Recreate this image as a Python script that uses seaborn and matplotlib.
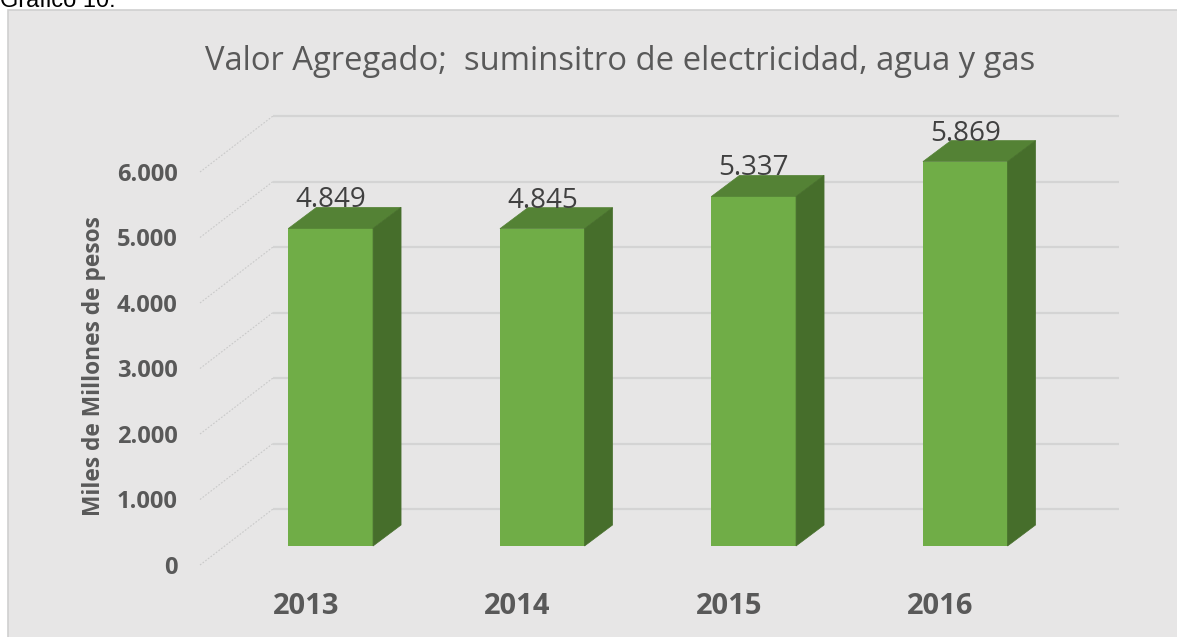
import matplotlib.pyplot as plt
import seaborn as sns
from matplotlib.patches import Polygon, Rectangle

# Datos
anios = ['2013', '2014', '2015', '2016']
valores = [4849, 4845, 5337, 5869]
etiquetas = ['4.849', '4.845', '5.337', '5.869']
ticks_y = [0, 1000, 2000, 3000, 4000, 5000, 6000]
ticks_y_txt = ['0', '1.000', '2.000', '3.000', '4.000', '5.000', '6.000']

titulo = 'Valor Agregado;  suminsitro de electricidad, agua y gas'

sns.set_theme(style='white')
plt.rcParams['font.family'] = ['Open Sans', 'DejaVu Sans']

W, H = 1177, 637
fig = plt.figure(figsize=(W / 100, H / 100), dpi=100)
fig.patch.set_facecolor('white')

# area del grafico (recortada a la derecha y abajo)
fig.add_artist(Rectangle((8 / W, -0.05), 1.1, 1 - 10 / H + 0.05, transform=fig.transFigure,
                         facecolor='#E7E6E6', edgecolor='#D0D0D0', lw=1.2, zorder=0))
fig.text(0.0, 1 - 7 / H, 'Gráfico 10:', fontsize=17, family=['Liberation Sans', 'DejaVu Sans'],
         color='black', va='baseline', ha='left')

# ejes = plano frontal de las barras
px_x = 211.5      # px por categoria
px_y = 0.0655     # px por unidad
y0_px = 546       # pixel (desde arriba) del 0 en el frente de las barras
ylim = (-600, 6500)
x_izq = 225
bottom_px = y0_px - ylim[0] * px_y
top_px = y0_px - ylim[1] * px_y
ax = fig.add_axes([x_izq / W, (H - bottom_px) / H, 4 * px_x / W, (bottom_px - top_px) / H])
ax.patch.set_alpha(0)

sns.barplot(x=anios, y=valores, color='#70AD47', saturation=1, width=0.4, ax=ax, zorder=3,
            linewidth=0)
ax.set_xlim(-0.5, 3.5)
ax.set_ylim(*ylim)
sns.despine(ax=ax, left=True, bottom=True)


def px(dx, dy):
    return dx / px_x, dy / px_y


prof = px(28, 21)      # profundidad de la barra
fondo = px(48, 37)     # pared del fondo
frente = px(-25, -19)  # plano de las etiquetas

# lineas de la pared del fondo y del costado
for t in ticks_y:
    ax.plot([-0.5 + fondo[0], 3.5 + fondo[0]], [t + fondo[1]] * 2, color='#D4D4D4', lw=1.6,
            zorder=1, clip_on=False, solid_capstyle='butt')
    ax.plot([-0.5 + frente[0], -0.5 + fondo[0]], [t + frente[1], t + fondo[1]], color='#C9C9C9',
            lw=0.8, ls=(0, (1.5, 1.5)), zorder=1, clip_on=False)

# caras superior y lateral de las barras
for p, txt in zip(ax.patches, etiquetas):
    x0, w, h = p.get_x(), p.get_width(), p.get_height()
    x1 = x0 + w
    dx, dy = prof
    ax.add_patch(Polygon([(x0, h), (x1, h), (x1 + dx, h + dy), (x0 + dx, h + dy)],
                         facecolor='#548235', edgecolor='#548235', lw=0.5, zorder=3))
    ax.add_patch(Polygon([(x1, 0), (x1, h), (x1 + dx, h + dy), (x1 + dx, dy)],
                         facecolor='#466E2B', edgecolor='#466E2B', lw=0.5, zorder=3))
    ax.text(x0 + w / 2, h + dy, txt, ha='center', va='baseline', fontsize=20, color='#404040', zorder=5)

# etiquetas de ejes en el plano frontal
ax.set_yticks([t + frente[1] for t in ticks_y], ticks_y_txt)
ax.set_xticks([i + frente[0] for i in range(len(anios))], anios)
ax.tick_params(axis='y', length=0, pad=34, labelsize=17, labelcolor='#595959')
ax.tick_params(axis='x', length=0, pad=5, labelsize=21, labelcolor='#595959')
for lab in ax.get_yticklabels() + ax.get_xticklabels():
    lab.set_fontweight('bold')
ax.set_xlabel('')
ax.set_ylabel('Miles de Millones de pesos', fontsize=16.4, fontweight='bold', color='#595959')
ax.yaxis.set_label_coords((106 - x_izq) / (4 * px_x), (bottom_px - 366) / (bottom_px - top_px))

fig.text(620 / W, 1 - 62 / H, titulo, ha='center', va='center', fontsize=23.6, color='#595959')

fig.savefig('out.png', dpi=100)
